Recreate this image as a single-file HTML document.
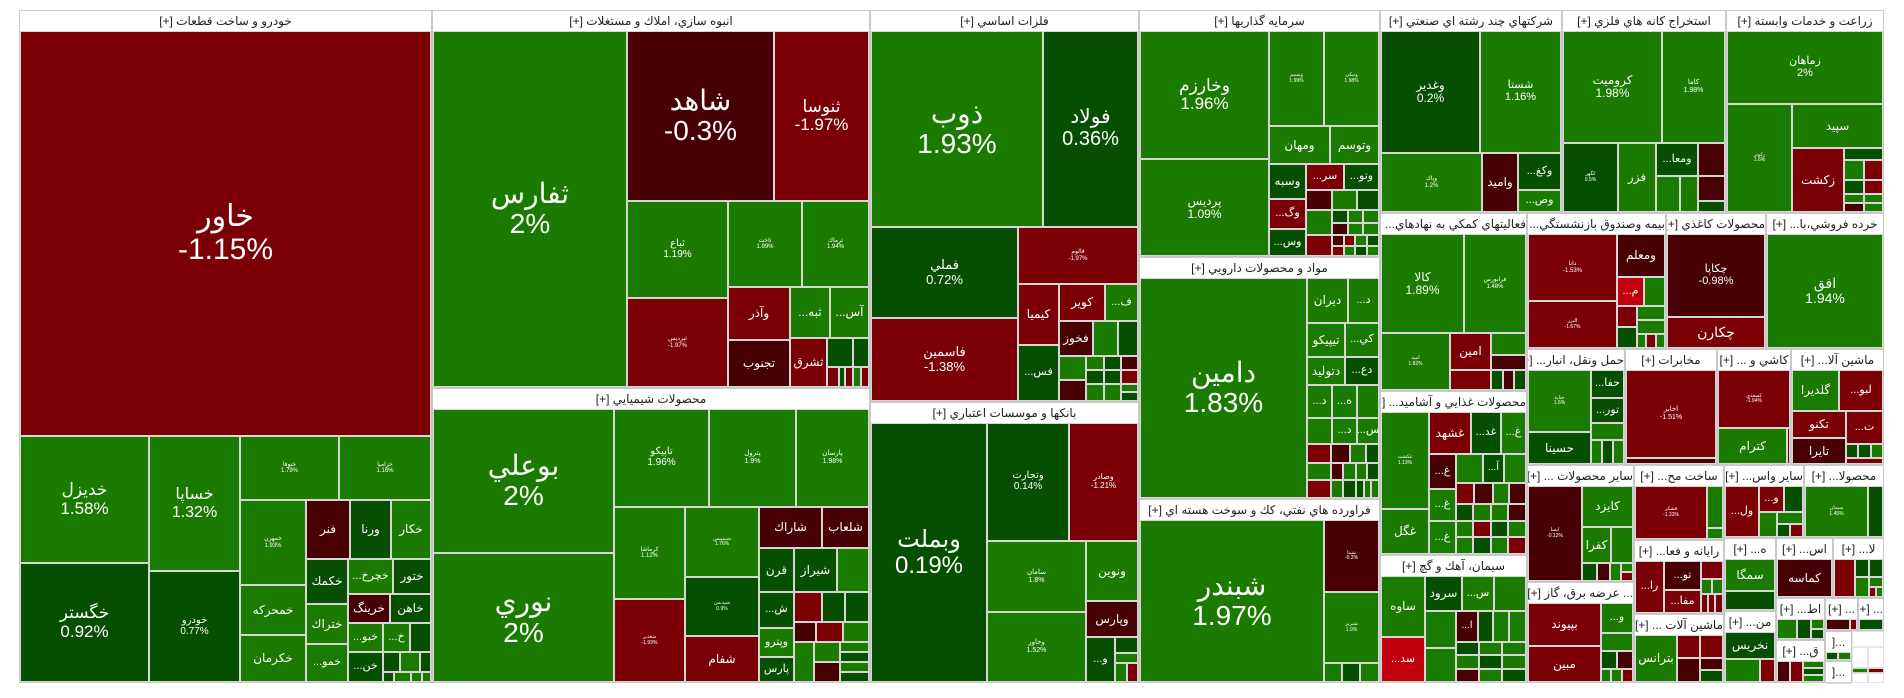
<!DOCTYPE html>
<html><head><meta charset="utf-8">
<style>
html,body{margin:0;padding:0;background:#fff;}
#chart{position:relative;width:1904px;height:698px;overflow:hidden;background:#fff;font-family:"Liberation Sans","DejaVu Sans",sans-serif;}
.sec{position:absolute;box-sizing:border-box;border:1px solid #c9c9c9;background:#fff;}
.hdr{position:absolute;left:0;right:0;top:0;height:20px;line-height:20px;text-align:center;font-size:12px;color:#222;white-space:nowrap;overflow:hidden;direction:rtl;}
.tile{position:absolute;box-sizing:border-box;border:1px solid #d6d6d6;display:flex;align-items:center;justify-content:center;flex-direction:column;color:#fff;overflow:hidden;text-align:center;line-height:1.08;white-space:nowrap;}
.nm{direction:rtl;}
.pc{direction:ltr;}
</style></head>
<body>
<div id="chart"></div>
<script>
function L(w,name,chg,fs){return {t:'L',w:w,name:name,chg:chg,fs:fs||0,pct:false};}
function P(w,name,chg,fs){return {t:'L',w:w,name:name,chg:chg,fs:fs||0,pct:true};}
function g(w){return L(w,'',1.9);}
function d(w){return L(w,'',0.5);}
function r(w){return L(w,'',-1.5);}
function k(w){return L(w,'',-0.5);}
function W(w){return L(w,'',null);}
function H(w){return {t:'H',w:w,k:Array.prototype.slice.call(arguments,1)};}
function V(w){return {t:'V',w:w,k:Array.prototype.slice.call(arguments,1)};}
function S(w,title,body){return {t:'S',w:w,title:title,body:body};}
</script>

<script>
var secAuto = S(343,'خودرو و ساخت قطعات [+]',
 V(1,
  P(335,'خاور',-1.15,30),
  H(204,
   V(227, P(385,'خديزل',1.58,17), P(360,'خگستر',0.92,17)),
   V(160, P(410,'خساپا',1.32,16), P(335,'خودرو',0.77,10)),
   V(337,
    H(195, P(175,'خنوفا',1.79,6), P(162,'خزامیا',1.16,6)),
    H(550,
     V(118, P(255,'خمهرن',1.93,6), L(150,'خمحركه',1.9,12), L(140,'خكرمان',1.9,12)),
     V(219,
      H(177, L(76,'فنر',-0.5,12), L(73,'ورنا',0.5,12), L(70,'خكار',1.9,12)),
      H(368,
       V(74, L(133,'خكمك',0.5,12), L(120,'ختراك',1.9,12), L(112,'خمو...',1.9,11)),
       V(145,
        H(102, L(78,'خچرخ...',1.9,11), L(67,'ختور',0.5,12)),
        H(88, L(73,'خرينگ',-0.5,12), L(72,'خاهن',0.5,12)),
        H(85, L(61,'خبو...',1.9,11), L(47,'خ...',1.9,11), d(37)),
        H(90,
         L(61,'خن...',0.5,11),
         V(84, H(60,d(30),g(36),d(18)), H(30,d(20),g(30),g(18),g(16)))
        )
       )
      )
     )
    )
   )
  )
 )
);
</script>

<script>
var secBuild = S(312,'انبوه سازي، املاك و مستغلات [+]',
 H(1,
  P(342,'ثفارس',2,28),
  V(426,
   H(506, P(260,'شاهد',-0.3,28), P(166,'ثنوسا',-1.97,17)),
   H(554,
    V(178, P(290,'ثباع',1.19,10), P(262,'ثپرديس',-1.97,6)),
    V(248,
     H(257, P(130,'ثاخت',1.99,6), P(118,'ثرماك',1.94,6)),
     H(295,
      V(110, L(155,'وآذر',-1.5,12), L(140,'تجنوب',-0.5,12)),
      V(138,
       H(151, L(70,'ثبه...',1.9,12), L(68,'آس...',1.9,12)),
       H(144,
        L(65,'ثشرق',-1.5,12),
        V(73, H(85,d(45),d(28)), H(57,r(20),d(12),r(14),g(14),r(13)))
       )
      )
     )
    )
   )
  )
 )
);
</script>

<script>
var secChem = S(244,'محصولات شيميايي [+]',
 H(1,
  V(320, P(436,'بوعلي',2,28), P(392,'نوري',2,28)),
  V(448,
   H(298, P(167,'تاپيكو',1.96,10), P(153,'پترول',1.9,7), P(128,'پارسان',1.98,7)),
   H(530,
    V(125, P(280,'كرماشا',1.12,6), P(250,'شغدير',-1.99,5)),
    V(130, P(212,'شيمیيس',1.76,5), P(178,'شپديس',0.9,5), L(140,'شفام',-1.5,12)),
    V(193,
     H(125, L(110,'شاراك',-0.5,12), L(83,'شلعاب',-0.5,12)),
     H(405,
      V(62, L(132,'قرن',0.5,12), L(108,'ش...',0.5,11), L(90,'وپترو',1.9,11), L(75,'پارس',0.5,11)),
      V(131,
       H(132, L(75,'شيراز',0.5,12), g(56)),
       H(90, r(48), d(42), d(41)),
       H(63, k(38), r(48), g(45)),
       H(120, g(35), V(45, g(60), k(60)), V(51, g(30), d(30), g(30), d(30)))
      )
     )
    )
   )
  )
 )
);
</script>

<script>
var secMetal = S(324,'فلزات اساسي [+]',
 V(1,
  H(162, P(144,'ذوب',1.93,28), P(79,'فولاد',0.36,20)),
  H(144,
   V(123, P(268,'فملي',0.72,13), P(247,'فاسمين',-1.38,13)),
   V(100,
    P(168,'فالوم',-1.97,6),
    H(347,
     V(64, L(180,'كيميا',-1.5,12), L(165,'فس...',0.5,11)),
     V(125,
      H(110, L(73,'كوير',-1.5,12), L(52,'ف...',1.9,11)),
      H(102, L(53,'فخوز',-0.5,12), g(40), d(32)),
      H(133, V(40,g(70),k(60)), V(25,g(40),d(40),g(50)), V(25,d(40),d(40),g(50)), V(25,k(40),r(40),g(25),d(25)))
     )
    )
   )
  )
 )
);
</script>

<script>
var secBank = S(232,'بانكها و موسسات اعتباري [+]',
 H(1,
  P(97,'وبملت',0.19,24),
  V(126,
   H(355, P(129,'وتجارت',0.14,10), P(110,'وصادر',-1.21,8)),
   H(425,
    V(157, P(213,'سامان',1.8,7), P(210,'وخاور',1.52,7)),
    V(82,
     L(180,'ونوين',1.9,12),
     L(107,'وپارس',-0.5,12),
     H(136, L(45,'و...',0.5,11), V(37, d(50), g(30), H(56, g(1), r(1))))
    )
   )
  )
 )
);
</script>

<script>
var secInv = S(204,'سرمايه گذاريها [+]',
 H(1,
  V(203, P(386,'وخارزم',1.96,17), P(292,'پرديس',1.09,12)),
  V(174,
   H(286, P(87,'وسنیم',1.99,5), P(87,'ونیکی',1.98,5)),
   H(115, L(97,'ومهان',1.9,12), L(77,'وتوسم',1.9,12)),
   H(277,
    V(59, L(105,'وسبه',0.5,12), L(88,'وگ...',-1.5,11), L(82,'وس...',0.5,11)),
    V(115,
     H(78, L(60,'سر...',-1.5,11), L(55,'وتو...',0.5,11)),
     H(59, k(41), g(39), d(35)),
     H(76, g(41), V(74, H(1,d(1),g(1),g(1)), H(1,k(1),g(1),g(1)))),
     H(62, r(41), V(74, H(1,k(1),r(1),g(1),d(1)), H(1,r(1),g(1),d(1),g(1))))
    )
   )
  )
 )
);
</script>

<script>
var secPharma = S(200,'مواد و محصولات دارويي [+]',
 H(1,
  P(263,'دامين',1.83,28),
  V(114,
   H(43, L(65,'ديران',1.9,12), L(49,'د...',1.9,11)),
   H(33, L(60,'تيپيكو',1.9,12), L(54,'كي...',1.9,11)),
   H(27, L(60,'دتوليد',1.9,12), L(54,'دع...',0.5,11)),
   H(31, L(40,'د...',1.9,11), L(40,'ه...',1.9,11), g(34)),
   H(25, g(40), L(40,'د...',1.9,11), L(34,'س...',1.9,11)),
   H(18, r(38), k(30), g(26), d(20)),
   H(34, V(38,g(1),r(1)), V(40, H(1,k(1),g(1)), H(1,g(1),d(1))), V(36, H(1,g(1),d(1)), H(1,d(1),g(1),g(1))))
  )
 )
);
</script>

<script>
var secOil = S(152,'فراورده هاي نفتي، كك و سوخت هسته اي [+]',
 H(1,
  P(290,'شبندر',1.97,28),
  V(87, P(217,'شپنا',-0.3,5), P(210,'شبریز',1.9,5), H(58, g(1), d(1), g(1)))
 )
);
</script>

<script>
var secMulti = S(151,'شركتهاي چند رشته اي صنعتي [+]',
 V(1,
  H(368, P(158,'وغدير',0.2,12), P(127,'شستا',1.16,11)),
  H(178, P(160,'وپاك',1.2,6), L(58,'واميد',-0.5,12), V(67, L(110,'وكغ...',0.5,11), L(68,'وص...',1.9,11)))
 )
);
var secMine = S(137,'استخراج كانه هاي فلزي [+]',
 V(1,
  H(336, P(157,'كروميت',1.98,12), P(100,'كاما',1.98,7)),
  H(210,
   P(87,'كگهر',0.5,5),
   L(60,'فزر',1.9,12),
   V(110, H(102, L(67,'ومعا...',0.5,11), k(43)), H(108, g(38), g(29), V(43, k(73), d(35))))
  )
 )
);
var secAgri = S(131,'زراعت و خدمات وابسته [+]',
 V(1,
  P(221,'زماهان',2,11),
  H(325,
   P(90,'زكوثر',1.6,5),
   V(128,
    L(130,'سپيد',1.9,12),
    H(193,
     L(74,'زكشت',-1.5,12),
     V(54, d(35), H(55,g(28),r(26)), H(40,d(28),r(26)), H(25,g(1),g(1)), H(25,k(28),g(26)))
    )
   )
  )
 )
);
</script>

<script>
var secSupport = S(147,'فعاليتهاي كمكي به نهادهاي... [+]',
 V(1,
  H(300, P(257,'كالا',1.89,12), P(188,'فرابورس',1.48,6)),
  H(172, P(214,'اميد',1.82,5), V(125, L(108,'امين',-1.5,12), r(62)), V(106, g(63), k(47), H(60,d(1),k(1),d(1))))
 )
);
var secFood = S(135,'محصولات غذايي و آشاميد... [+]',
 H(1,
  V(77, P(285,'غكشت',1.13,5), L(130,'غگل',1.9,12)),
  V(155,
   H(123, L(68,'غشهد',-1.5,12), L(48,'غد...',0.5,11), L(39,'غ...',1.9,11)),
   H(292,
    V(43, L(100,'غ...',-0.5,11), L(95,'غ...',1.9,11), L(95,'غ...',1.9,11)),
    V(112,
     H(85, g(43), L(35,'آ...',0.5,10), g(34)),
     H(60, r(30), k(30), g(26), k(26)),
     H(145, V(1,d(1),g(1),g(1)), V(1,g(1),r(1),d(1)), V(1,g(1),d(1),g(1)), V(1,k(1),g(1),r(1)))
    )
   )
  )
 )
);
var secCement = S(106,'سيمان، آهك و گچ [+]',
 H(1,
  V(70, L(180,'ساوه',1.9,12), L(133,'سد...',-3,11)),
  V(162,
   H(105, L(60,'سرود',0.5,12), L(52,'س...',1.9,11), g(50)),
   H(208,
    V(50, g(108), g(98)),
    V(112,
     H(88, L(35,'ا...',-0.5,10), d(25), g(25), g(27)),
     H(118, V(1,d(1),g(1),k(1)), V(1,g(1),d(1),g(1)), V(1,g(1),g(1),d(1)))
    )
   )
  )
 )
);
</script>

<script>
var secIns = S(116,'بيمه وصندوق بازنشستگي... [+]',
 H(1,
  V(263, P(197,'دانا',-1.53,6), P(137,'البرز',-1.67,5)),
  V(144,
   L(124,'ومعلم',-0.5,12),
   H(86, L(80,'م...',-3,11), g(62)),
   H(124, V(60, r(1), d(1)), V(84, g(1), g(1), H(1, g(1), r(1), g(1))))
  )
 )
);
var secPaper = S(83,'محصولات كاغذي [+]', V(1, P(242,'چكاپا',-0.98,11), L(92,'چكارن',-1.5,14)));
var secRetail = S(98,'خرده فروشي،با... [+]', P(1,'افق',1.94,14));
var secTrans = S(82,'حمل ونقل، انبار... [+]',
 H(1,
  V(197, P(186,'حتايد',1.6,5), L(97,'حسينا',0.5,12)),
  V(103, L(85,'حفا...',0.5,11), L(75,'تور...',0.5,11), g(50), H(73, g(1), d(1), g(1)))
 )
);
var secTel = S(76,'مخابرات [+]', V(1, P(260,'اخابر',-1.51,7), k(18)));
var secTile = S(62,'كاشي و ... [+]', V(1, P(170,'كسعدي',-1.94,5), H(108, L(217,'كترام',1.9,12), r(12))));
var secMach = S(77,'ماشين آلا... [+]',
 V(1,
  H(120, L(116,'گلديرا',1.9,12), L(109,'لبو...',-1.5,11)),
  H(158,
   V(133, L(80,'تكنو',-1.5,12), L(78,'تايرا',-0.5,12)),
   V(92, L(98,'ت...',-1.5,11), H(42, d(1), d(1), g(1)), r(18))
  )
 )
);
</script>

<script>
var col1 = V(305,
 S(345,'ساير محصولات ... [+]',
  H(1,
   P(157,'ايسا',-0.12,5),
   V(148,
    L(122,'كايزد',1.9,12),
    H(107, L(85,'كفرا',1.9,12), g(63)),
    H(53, d(45), k(38), g(30), V(35, g(1), r(1)))
   )
  )
 ),
 S(298,'... عرضه برق، گاز [+]',
  H(1,
   V(212, L(130,'بپيوند',-1.5,12), L(108,'مبين',-1.5,12)),
   V(93, L(90,'و...',1.9,11), g(55), H(55, d(1), k(1)), H(38, g(1), g(1), r(1)))
  )
 )
);
var col2 = V(257,
 S(220,'ساخت مح... [+]', H(1, P(208,'قشكر',-1.33,5), V(44, g(130), g(35)))),
 S(215,'رايانه و فعا... [+]',
  H(1,
   L(84,'را...',-1.5,11),
   V(105, L(84,'تو...',-0.5,11), L(68,'مفا...',-1.5,11)),
   V(63, r(52), H(45, g(1), g(1)), H(55, r(1), r(1), r(1)))
  )
 ),
 S(203,'ماشين آلات ... [+]',
  H(1,
   L(122,'بترانس',1.9,12),
   V(130, H(70, r(1), r(1)), H(70, k(1), V(1, k(1), d(1))))
  )
 )
);
</script>

<script>
var secOtherServ = S(228,'ساير واس... [+]',
 H(1,
  L(97,'ول...',-1.5,11),
  V(125,
   H(80, L(72,'و...',-1.5,11), d(53)),
   H(80, g(52), V(73, g(1), H(1, d(1), r(1))))
  )
 )
);
var secProd = S(227,'محصولا... [+]', H(1, P(182,'سيمان',1.45,5), d(42)));
var secH = S(215,'ه... [+]', V(1, L(98,'سمگا',1.9,12), d(57)));
var secMan = S(213,'من... [+]', V(1, L(80,'نخريس',0.5,12), H(68, g(100), r(42))));
var secAs = S(160,'اس... [+]', L(1,'كماسه',-0.5,12));
var secLa = S(144,'لا... [+]',
 H(1,
  r(60),
  V(82, H(55, d(1), d(1)), H(60, g(1), V(1, g(1), H(1, r(1), g(1)))))
 )
);
var secAt = S(122,'اط... [+]', H(1, g(58), d(40), V(38, g(1), d(1))));
var secGh = S(123,'ق... [+]', H(1, k(40), r(36), V(60, g(1), d(1), g(1))));
var secT1 = S(93,'... [+]', H(1, k(73), r(20)));
var secT2 = S(72,'... [+]', d(1));
var secT3 = S(85,'...[', H(1, d(1), g(1)));
var secT4 = S(63,'...[', g(1));
</script>

<script>
function G(name,w){
  var v = window[name];
  if(v){ return v; }
  return L(w,'',0.5);
}
function withW(node,w){ node.w=w; return node; }

var col3 = V(457,
 H(215, G('secOtherServ',228), G('secProd',227)),
 H(428,
  V(147, G('secH',215), G('secMan',213)),
  V(307,
   H(175, G('secAs',160), G('secLa',144)),
   H(250,
    V(138, G('secAt',122), G('secGh',123)),
    V(167,
     H(97, G('secT1',93), G('secT2',72)),
     H(150,
      V(77, G('secT3',85), G('secT4',63)),
      V(90, W(47), H(103, V(1, W(60), g(15), W(28)), V(1, W(60), r(15), W(28))))
     )
    )
   )
  )
 )
);

var root = H(1,
 G('secAuto',343),
 V(364, G('secBuild',312), G('secChem',244)),
 V(224, G('secMetal',324), G('secBank',232)),
 V(200, G('secInv',204), G('secPharma',200), G('secOil',152)),
 V(419,
  H(168, G('secMulti',151), G('secMine',137), G('secAgri',131)),
  H(388,
   V(122, G('secSupport',147), G('secFood',135), G('secCement',106)),
   V(297,
    H(112, G('secIns',116), G('secPaper',83), G('secRetail',98)),
    H(96, G('secTrans',82), G('secTel',76), G('secTile',62), G('secMach',77)),
    H(180, G('col1',305), G('col2',257), col3)
   )
  )
 )
);

var chart = document.getElementById('chart');

function colorOf(c){
  if(c===null||c===undefined) return '#ffffff';
  if(c>=1) return '#1b7b00';
  if(c>=0) return '#064f00';
  if(c>-1) return '#470004';
  if(c>-2.5) return '#7b0006';
  return '#c0000c';
}
function fmt(c){ return String(c)+'%'; }

function lay(n,x,y,w,h){
  if(!n) return;
  if(n.t==='L'){
    var el=document.createElement('div');
    el.className='tile';
    
    
    el.style.left=Math.round(x)+'px';
    el.style.top=Math.round(y)+'px';
    el.style.width=(Math.round(x+w)-Math.round(x))+'px';
    el.style.height=(Math.round(y+h)-Math.round(y))+'px';
    el.style.background=colorOf(n.chg);
    if(n.chg===null) el.style.borderColor='#e4e4e4';
    if(n.name && n.fs){
      el.style.fontSize=n.fs+'px';
      var a=document.createElement('div');
      a.className='nm';
      a.textContent=n.name;
      
      
      el.appendChild(a);
      if(n.pct){
        var b=document.createElement('div');
        b.className='pc';
        b.textContent=fmt(n.chg);
        
        
        el.appendChild(b);
      }
    }
    chart.appendChild(el);
    return;
  }
  if(n.t==='S'){
    var s=document.createElement('div');
    s.className='sec';
    
    
    s.style.left=Math.round(x)+'px';
    s.style.top=Math.round(y)+'px';
    s.style.width=(Math.round(x+w)-Math.round(x))+'px';
    s.style.height=(Math.round(y+h)-Math.round(y))+'px';
    var hd=document.createElement('div');
    hd.className='hdr';
    
    
    hd.textContent=n.title;
    s.appendChild(hd);
    chart.appendChild(s);
    lay(n.body, x+1, y+21, w-2, Math.max(0,h-22));
    return;
  }
  var kids=n.k.filter(function(c){return c;});
  var tot=0;
  kids.forEach(function(c){ tot+=c.w; });
  var p=0;
  kids.forEach(function(c){
    var f0=p/tot, f1=(p+c.w)/tot;
    p+=c.w;
    if(n.t==='H') lay(c, x+w*f0, y, w*(f1-f0), h);
    else lay(c, x, y+h*f0, w, h*(f1-f0));
  });
}
lay(root, 19, 10, 1865, 673);
</script>
</body></html>
